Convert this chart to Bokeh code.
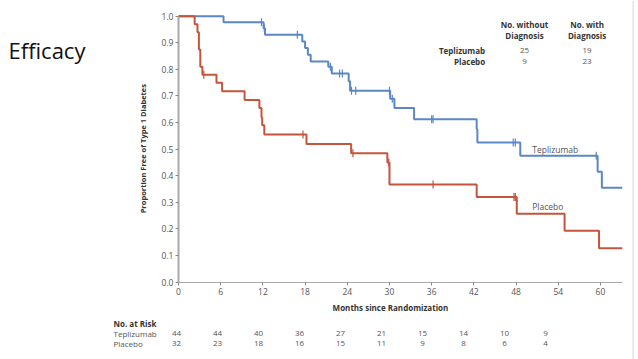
from math import pi
from bokeh.plotting import figure
from bokeh.models import (Range1d, LinearAxis, ColumnDataSource, FixedTicker,
                          NumeralTickFormatter, Span)
from bokeh.core.properties import value
from bokeh.embed import file_html
from bokeh.resources import INLINE

# ---------------- data ----------------
x_ticks = [0, 6, 12, 18, 24, 30, 36, 42, 48, 54, 60]
y_ticks = [0.0, 0.1, 0.2, 0.3, 0.4, 0.5, 0.6, 0.7, 0.8, 0.9, 1.0]

tep_t = [0, 6.4, 12.1, 12.3, 17.6, 18.0, 18.4, 18.8, 21.3, 21.8, 24.2, 24.4, 30.1, 30.7,
         33.5, 42.4, 42.5, 48.6, 59.6, 60.2, 63.1]
tep_s = [1.0, 0.977, 0.955, 0.93, 0.905, 0.88, 0.855, 0.83, 0.81, 0.785, 0.755, 0.72, 0.69,
         0.655, 0.613, 0.575, 0.525, 0.475, 0.415, 0.355, 0.355]
pla_t = [0, 2.3, 2.7, 2.9, 3.1, 3.4, 5.4, 6.2, 9.4, 11.5, 11.8, 11.9, 12.2, 18.2, 24.55,
         29.7, 30.0, 42.4, 48.1, 54.9, 59.8, 63.1]
pla_s = [1.0, 0.97, 0.94, 0.875, 0.81, 0.78, 0.75, 0.718, 0.685, 0.655, 0.62, 0.59, 0.555,
         0.52, 0.485, 0.45, 0.367, 0.32, 0.257, 0.193, 0.128, 0.128]

tep_cens_t = [11.8, 12.2, 16.9, 21.6, 22.9, 23.3, 24.6, 25.2, 30.0, 30.4, 36.0, 36.2, 47.6, 47.9, 59.4]
tep_cens_s = [0.977, 0.955, 0.93, 0.81, 0.785, 0.785, 0.72, 0.72, 0.72, 0.69, 0.613, 0.613,
              0.525, 0.525, 0.475]
pla_cens_t = [3.6, 17.7, 24.8, 29.9, 36.2, 47.7, 47.9]
pla_cens_s = [0.78, 0.555, 0.485, 0.45, 0.367, 0.32, 0.32]

groups = ["Teplizumab", "Placebo"]
no_without = [25, 9]
no_with = [19, 23]

risk_months = [0, 6, 12, 18, 24, 30, 36, 42, 48, 54]
risk_tep = [44, 44, 40, 36, 27, 21, 15, 14, 10, 9]
risk_pla = [32, 23, 18, 16, 15, 11, 9, 8, 6, 4]

# ---------------- styling ----------------
FONT = "Open Sans"
BLUE = "#5b87c4"
RED = "#c4553c"
TXT = "#333333"
GREY = "#555555"

p = figure(width=638, height=359, output_backend="svg", toolbar_location=None,
           x_range=Range1d(-25.31, 65.41), y_range=Range1d(-0.2906, 1.059),
           x_axis_location=None, y_axis_location=None,
           min_border=0, min_border_left=0, min_border_right=0,
           min_border_top=0, min_border_bottom=0)
p.outline_line_color = None
p.grid.visible = False
p.background_fill_color = "white"
p.border_fill_color = "white"
p.extra_x_ranges = {"risk": Range1d(-25.757, 67.61)}

xaxis = LinearAxis(fixed_location=0, ticker=FixedTicker(ticks=x_ticks), bounds=(0, 63.13))
yaxis = LinearAxis(fixed_location=0, ticker=FixedTicker(ticks=y_ticks), bounds=(0, 1),
                   formatter=NumeralTickFormatter(format="0.0"))
for ax in (xaxis, yaxis):
    ax.axis_line_color = "#aaaaaa"
    ax.major_tick_line_color = "#888888"
    ax.major_tick_in = 0
    ax.major_tick_out = 3
    ax.minor_tick_line_color = None
    ax.major_label_text_font = FONT
    ax.major_label_text_font_size = "8.5px"
    ax.major_label_text_color = GREY
yaxis.axis_line_width = 2
xaxis.axis_line_width = 1.2
xaxis.major_label_standoff = 3
yaxis.major_label_standoff = 2
p.add_layout(xaxis, "below")
p.add_layout(yaxis, "left")

# image border line at right
p.add_layout(Span(location=64.64, dimension="height", line_color="#d5d5d5", line_width=1))

# curves
p.step(tep_t, tep_s, mode="after", line_color=BLUE, line_width=2)
p.step(pla_t, pla_s, mode="after", line_color=RED, line_width=2)
p.scatter(tep_cens_t, tep_cens_s, marker="dash", angle=pi / 2, size=8,
          line_color=BLUE, line_width=1.2)
p.scatter(pla_cens_t, pla_cens_s, marker="dash", angle=pi / 2, size=8,
          line_color=RED, line_width=1.2)


def txt(x, y, text, size="8px", bold=False, align="left", baseline="middle",
        color=TXT, angle=0.0, x_range_name="default"):
    src = ColumnDataSource(dict(x=x, y=y, t=text))
    p.text(x="x", y="y", text="t", source=src, text_font=value(FONT),
           text_font_size=value(size),
           text_font_style=value("bold" if bold else "normal"),
           text_align=value(align), text_baseline=value(baseline),
           text_color=value(color), angle=angle, x_range_name=x_range_name)


# curve labels
txt([50.3], [0.499], ["Teplizumab"], size="8.5px", color=GREY)
txt([50.3], [0.286], ["Placebo"], size="8.5px", color=GREY)

# slide title
txt([-24.17], [0.872], ["Efficacy"], size="22px", baseline="middle", color="#111111")

# axis titles
txt([-4.98], [0.502], ["Proportion Free of Type 1 Diabetes"], size="7.5px", bold=True,
    align="center", angle=pi / 2)
txt([30.14], [-0.094], ["Months since Randomization"], size="8px", bold=True, align="center")

# top-right table
txt([49.2, 49.2, 58.1, 58.1], [0.968, 0.927, 0.968, 0.927],
    ["No. without", "Diagnosis", "No. with", "Diagnosis"], bold=True, align="center")
txt([43.6, 43.6], [0.872, 0.831], groups, bold=True, align="right")
txt([49.2, 49.2], [0.872, 0.831], [str(v) for v in no_without], align="center", color=GREY)
txt([58.1, 58.1], [0.872, 0.831], [str(v) for v in no_with], align="center", color=GREY)

# risk table
txt([-9.24], [-0.156], ["No. at Risk"], bold=True)
txt([-9.24, -9.24], [-0.194, -0.232], groups, color=GREY)
txt(risk_months, [-0.194] * len(risk_months), [str(v) for v in risk_tep],
    align="center", color=GREY, x_range_name="risk")
txt(risk_months, [-0.232] * len(risk_months), [str(v) for v in risk_pla],
    align="center", color=GREY, x_range_name="risk")

open("out.html", "w").write(file_html(p, INLINE))
